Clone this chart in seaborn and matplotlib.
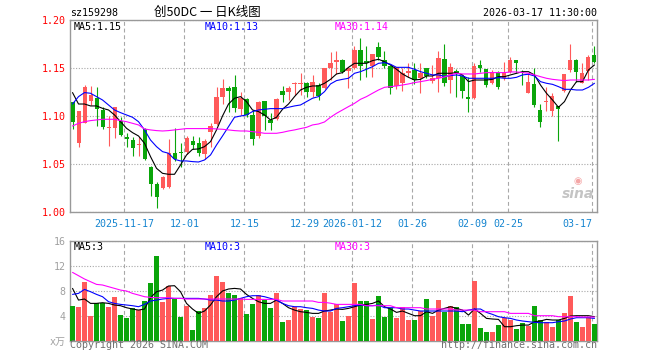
import matplotlib
matplotlib.use("Agg")
import matplotlib.pyplot as plt
import numpy as np
import pandas as pd
import seaborn as sns

sns.set_theme(style="white")
plt.rcParams["font.family"] = ["DejaVu Sans Mono", "Noto Sans CJK SC"]

RED = "#ff5a5a"
GREEN = "#0aa50a"
GRID = "#a8a8a8"
FRAME = "#999999"
XBLUE = "#1585d0"
FS = 7.2

# daily candles, 2025-11-04 .. 2026-03-17
open_px = [1.1153, 1.0719, 1.0934, 1.1163, 1.1188, 1.1066, 1.0875, 1.0875, 1.0955, 1.0788,
           1.0753, 1.0698, 1.0865, 1.0476, 1.0295, 1.0257, 1.0267, 1.0615, 1.0625, 1.0632,
           1.0743, 1.0719, 1.0608, 1.0840, 1.0920, 1.1205, 1.1292, 1.1302, 1.1073, 1.1177,
           1.1014, 1.0795, 1.1160, 1.0962, 1.0969, 1.1264, 1.1257, 1.1333, 1.1333, 1.1351,
           1.1257, 1.1326, 1.1299, 1.1507, 1.1563, 1.1587, 1.1476, 1.1500, 1.1691, 1.1576,
           1.1528, 1.1719, 1.1587, 1.1524, 1.1312, 1.1351, 1.1455, 1.1483, 1.1403, 1.1507,
           1.1365, 1.1396, 1.1597, 1.1378, 1.1476, 1.1420, 1.1205, 1.1188, 1.1535, 1.1490,
           1.1351, 1.1465, 1.1396, 1.1465, 1.1587, 1.1465, 1.1247, 1.1337, 1.1066, 1.1153,
           1.1059, 1.1108, 1.1267, 1.1483, 1.1587, 1.1351, 1.1476, 1.1639]
close_px = [1.0944, 1.1056, 1.1302, 1.1222, 1.1073, 1.0892, 1.0892, 1.1094, 1.0806, 1.0760,
            1.0667, 1.0712, 1.0559, 1.0295, 1.0163, 1.0372, 1.0615, 1.0552, 1.0618, 1.0778,
            1.0701, 1.0622, 1.0743, 1.0899, 1.1198, 1.1292, 1.1264, 1.1083, 1.1188, 1.1014,
            1.0764, 1.1153, 1.1003, 1.0927, 1.1177, 1.1222, 1.1292, 1.1344, 1.1351, 1.1257,
            1.1361, 1.1215, 1.1507, 1.1552, 1.1587, 1.1465, 1.1507, 1.1691, 1.1528, 1.1552,
            1.1649, 1.1622, 1.1524, 1.1292, 1.1517, 1.1455, 1.1476, 1.1378, 1.1455, 1.1420,
            1.1403, 1.1604, 1.1351, 1.1517, 1.1448, 1.1267, 1.1177, 1.1524, 1.1500, 1.1326,
            1.1465, 1.1302, 1.1455, 1.1587, 1.1552, 1.1448, 1.1361, 1.1118, 1.0937, 1.1163,
            1.1212, 1.1080, 1.1441, 1.1587, 1.1465, 1.1455, 1.1615, 1.1569]
high_px = [1.1153, 1.1056, 1.1326, 1.1316, 1.1302, 1.1101, 1.1003, 1.1094, 1.0990, 1.0823,
           1.0788, 1.0788, 1.0875, 1.0483, 1.0319, 1.0382, 1.0760, 1.0875, 1.0719, 1.0795,
           1.0795, 1.0788, 1.0760, 1.0927, 1.1302, 1.1385, 1.1316, 1.1431, 1.1257, 1.1188,
           1.1066, 1.1163, 1.1160, 1.1031, 1.1188, 1.1316, 1.1316, 1.1361, 1.1448, 1.1361,
           1.1431, 1.1344, 1.1507, 1.1674, 1.1684, 1.1594, 1.1517, 1.1736, 1.1812, 1.1736,
           1.1649, 1.1778, 1.1684, 1.1535, 1.1517, 1.1500, 1.1552, 1.1552, 1.1552, 1.1507,
           1.1535, 1.1684, 1.1750, 1.1552, 1.1490, 1.1431, 1.1413, 1.1559, 1.1587, 1.1490,
           1.1483, 1.1476, 1.1566, 1.1615, 1.1587, 1.1483, 1.1448, 1.1500, 1.1128, 1.1309,
           1.1240, 1.1108, 1.1441, 1.1753, 1.1594, 1.1552, 1.1639, 1.1733]
low_px = [1.0865, 1.0684, 1.0934, 1.1118, 1.0899, 1.0870, 1.0694, 1.0778, 1.0795, 1.0684,
          1.0587, 1.0590, 1.0545, 1.0170, 1.0042, 1.0243, 1.0250, 1.0538, 1.0476, 1.0608,
          1.0660, 1.0587, 1.0552, 1.0677, 1.0906, 1.1128, 1.1049, 1.1049, 1.1014, 1.0990,
          1.0701, 1.0771, 1.0858, 1.0858, 1.0962, 1.1153, 1.1170, 1.1222, 1.1222, 1.1205,
          1.1205, 1.1170, 1.1281, 1.1378, 1.1441, 1.1448, 1.1299, 1.1490, 1.1378, 1.1413,
          1.1413, 1.1587, 1.1500, 1.1229, 1.1285, 1.1267, 1.1413, 1.1337, 1.1247, 1.1396,
          1.1344, 1.1257, 1.1313, 1.1247, 1.1205, 1.1188, 1.1049, 1.1177, 1.1465, 1.1309,
          1.1337, 1.1288, 1.1378, 1.1448, 1.1448, 1.1326, 1.1240, 1.1094, 1.0885, 1.1059,
          1.1003, 1.0747, 1.1257, 1.1465, 1.1361, 1.1344, 1.1378, 1.1552]

ma5 = [1.1247, 1.1128, 1.1128, 1.1108, 1.1108, 1.1083, 1.1066, 1.1014, 1.0944, 1.0875,
       1.0830, 1.0795, 1.0719, 1.0580, 1.0458, 1.0406, 1.0396, 1.0396, 1.0493, 1.0597,
       1.0656, 1.0660, 1.0684, 1.0736, 1.0858, 1.1003, 1.1128, 1.1188, 1.1205, 1.1153,
       1.1066, 1.1049, 1.1014, 1.0962, 1.0990, 1.1073, 1.1128, 1.1205, 1.1274, 1.1302,
       1.1316, 1.1316, 1.1344, 1.1385, 1.1441, 1.1455, 1.1510, 1.1552, 1.1552, 1.1552,
       1.1580, 1.1594, 1.1569, 1.1535, 1.1490, 1.1441, 1.1406, 1.1378, 1.1385, 1.1420,
       1.1420, 1.1448, 1.1448, 1.1448, 1.1455, 1.1431, 1.1361, 1.1378, 1.1378, 1.1378,
       1.1385, 1.1413, 1.1413, 1.1431, 1.1448, 1.1465, 1.1465, 1.1431, 1.1326, 1.1240,
       1.1170, 1.1094, 1.1153, 1.1274, 1.1361, 1.1361, 1.1483, 1.1535]
ma10 = [1.1128, 1.1205, 1.1247, 1.1240, 1.1205, 1.1170, 1.1118, 1.1066, 1.1038, 1.1014,
        1.0990, 1.0944, 1.0858, 1.0753, 1.0684, 1.0632, 1.0615, 1.0552, 1.0535, 1.0535,
        1.0528, 1.0524, 1.0545, 1.0597, 1.0701, 1.0795, 1.0892, 1.0990, 1.1003, 1.1014,
        1.1049, 1.1066, 1.1073, 1.1080, 1.1080, 1.1080, 1.1094, 1.1108, 1.1118, 1.1153,
        1.1188, 1.1205, 1.1257, 1.1337, 1.1372, 1.1385, 1.1396, 1.1448, 1.1465, 1.1490,
        1.1517, 1.1552, 1.1559, 1.1542, 1.1510, 1.1510, 1.1510, 1.1490, 1.1465, 1.1448,
        1.1431, 1.1431, 1.1416, 1.1424, 1.1431, 1.1420, 1.1396, 1.1396, 1.1396, 1.1396,
        1.1396, 1.1403, 1.1396, 1.1396, 1.1406, 1.1431, 1.1438, 1.1420, 1.1361, 1.1344,
        1.1333, 1.1309, 1.1281, 1.1281, 1.1274, 1.1274, 1.1302, 1.1344]
ma30 = [1.0899, 1.0927, 1.0944, 1.0955, 1.0962, 1.0969, 1.0969, 1.0969, 1.0955, 1.0944,
        1.0927, 1.0910, 1.0868, 1.0858, 1.0851, 1.0847, 1.0851, 1.0858, 1.0865, 1.0872,
        1.0872, 1.0872, 1.0872, 1.0872, 1.0868, 1.0865, 1.0858, 1.0851, 1.0847, 1.0847,
        1.0840, 1.0833, 1.0823, 1.0823, 1.0823, 1.0833, 1.0847, 1.0858, 1.0872, 1.0885,
        1.0910, 1.0920, 1.0941, 1.0990, 1.1031, 1.1066, 1.1101, 1.1135, 1.1177, 1.1205,
        1.1240, 1.1274, 1.1302, 1.1309, 1.1316, 1.1326, 1.1337, 1.1351, 1.1361, 1.1372,
        1.1385, 1.1396, 1.1410, 1.1431, 1.1448, 1.1441, 1.1441, 1.1441, 1.1448, 1.1455,
        1.1455, 1.1455, 1.1455, 1.1462, 1.1462, 1.1455, 1.1448, 1.1431, 1.1413, 1.1396,
        1.1385, 1.1378, 1.1372, 1.1378, 1.1378, 1.1378, 1.1378, 1.1385]

# volume, in 万
vol = [5.60, 5.44, 9.44, 4.00, 5.97, 5.97, 5.44, 7.04, 4.10, 3.68,
       5.28, 4.90, 6.40, 9.28, 13.55, 6.24, 8.69, 6.88, 3.84, 5.60,
       1.71, 4.75, 5.28, 7.31, 10.40, 9.44, 7.68, 7.31, 6.77, 4.27,
       5.92, 7.31, 6.50, 5.28, 7.57, 3.04, 3.30, 5.44, 5.07, 4.90,
       3.84, 3.68, 7.57, 4.64, 5.81, 3.15, 4.00, 9.28, 6.40, 6.40,
       3.47, 7.20, 3.84, 5.17, 3.68, 5.33, 3.31, 3.31, 4.75, 6.72,
       4.00, 6.56, 4.64, 5.60, 5.33, 2.67, 2.67, 9.60, 2.08, 1.44,
       1.44, 2.50, 3.57, 3.31, 1.87, 2.88, 2.40, 5.60, 3.31, 2.93,
       2.24, 3.31, 4.48, 7.20, 3.04, 2.24, 3.84, 2.67]
vma5 = [8.37, 6.50, 6.67, 5.97, 5.97, 6.08, 5.97, 5.71, 5.60, 5.28,
        5.07, 4.90, 5.07, 6.88, 7.84, 8.10, 8.75, 8.80, 7.84, 5.97,
        5.07, 4.37, 4.75, 5.71, 7.04, 7.95, 8.27, 8.37, 8.27, 7.41,
        6.77, 6.24, 5.97, 5.97, 6.50, 5.97, 5.28, 4.90, 4.64, 4.53,
        4.37, 4.37, 4.75, 4.90, 5.07, 5.01, 5.17, 5.44, 5.71, 5.81,
        5.97, 6.35, 5.44, 5.07, 4.53, 4.75, 4.37, 4.00, 4.00, 4.64,
        4.37, 4.90, 5.17, 5.44, 5.17, 4.90, 4.10, 5.07, 4.37, 3.57,
        3.47, 3.41, 2.24, 2.24, 2.40, 2.50, 2.50, 3.04, 3.15, 3.41,
        3.31, 3.31, 3.57, 3.95, 4.00, 4.00, 4.00, 3.84]
vma10 = [7.41, 7.57, 8.21, 7.84, 7.41, 7.04, 6.24, 5.97, 5.81, 5.71,
         5.60, 5.44, 5.81, 6.35, 6.50, 6.67, 6.77, 6.77, 6.77, 6.77,
         6.77, 6.77, 6.67, 6.50, 6.50, 6.35, 6.35, 6.50, 6.77, 7.04,
         7.20, 7.20, 7.04, 6.77, 6.50, 5.97, 5.60, 5.44, 5.44, 5.28,
         5.17, 4.90, 4.75, 4.75, 5.17, 5.28, 5.44, 5.60, 5.71, 5.60,
         5.60, 5.71, 5.28, 5.28, 5.28, 5.07, 5.07, 4.90, 4.75, 4.75,
         4.75, 4.75, 4.75, 4.75, 4.75, 4.64, 4.90, 5.07, 5.07, 4.53,
         4.21, 3.84, 3.68, 3.57, 3.31, 3.15, 3.04, 2.93, 2.88, 2.88,
         2.88, 3.04, 3.15, 3.47, 3.68, 3.68, 3.68, 3.57]
vma30 = [10.93, 10.40, 9.87, 9.44, 9.01, 8.91, 8.64, 8.37, 8.10, 7.95,
         7.57, 7.31, 7.04, 6.93, 6.88, 6.88, 6.88, 6.77, 6.77, 6.67,
         6.67, 6.67, 6.67, 6.67, 6.67, 6.67, 6.67, 6.67, 6.67, 6.61,
         6.61, 6.61, 6.61, 6.61, 6.61, 6.35, 6.35, 6.35, 6.35, 6.35,
         6.35, 6.13, 6.13, 6.00, 5.81, 5.81, 5.81, 5.81, 5.81, 5.60,
         5.60, 5.60, 5.60, 5.60, 5.28, 5.28, 5.28, 5.28, 5.28, 5.07,
         5.07, 5.07, 5.07, 5.07, 4.90, 4.90, 4.90, 4.90, 4.64, 4.64,
         4.64, 4.64, 4.64, 4.37, 4.37, 4.37, 4.37, 4.00, 4.00, 4.00,
         4.00, 3.84, 3.84, 3.84, 3.84, 3.79, 3.79, 3.79]

tick_days = [9, 19, 29, 39, 47, 57, 67, 73, 87]
tick_labels = ["2025-11-17", "12-01", "12-15", "12-29", "2026-01-12",
               "01-26", "02-09", "02-25", "03-17"]
price_ticks = [1.00, 1.05, 1.10, 1.15, 1.20]
vol_ticks = [0, 4, 8, 12, 16]
vol_tick_labels = ["x万", "4", "8", "12", "16"]

df = pd.DataFrame({"open": open_px, "close": close_px, "high": high_px, "low": low_px,
                   "ma5": ma5, "ma10": ma10, "ma30": ma30,
                   "vol": vol, "vma5": vma5, "vma10": vma10, "vma30": vma30})
df["idx"] = np.arange(len(df))
df["dir"] = np.where(df["close"] >= df["open"], "up", "down")
col = df["dir"].map({"up": RED, "down": GREEN})

W, H = 660, 360
fig = plt.figure(figsize=(W / 100, H / 100), dpi=100)


def rect(l, t, r, b):
    return [l / W, 1 - b / H, (r - l) / W, (b - t) / H]


ax = fig.add_axes(rect(70, 20.3, 597, 212.3))
axv = fig.add_axes(rect(70, 240.7, 597, 340.7))

# candles
ax.vlines(df["idx"], df["low"], df["high"], colors=col, linewidth=0.8, zorder=3)
body_lo = df[["open", "close"]].min(axis=1)
body_h = (df["close"] - df["open"]).abs().clip(lower=0.0008)
ax.bar(df["idx"], body_h, bottom=body_lo, width=0.67, color=col, linewidth=0, zorder=4)
for name, c in [("ma5", "black"), ("ma10", "#0000ff"), ("ma30", "#ff00ff")]:
    sns.lineplot(data=df, x="idx", y=name, ax=ax, color=c, linewidth=0.8, zorder=5)

# volume
axv.bar(df["idx"], df["vol"], width=0.83, color=col, linewidth=0, zorder=3)
for name, c in [("vma5", "black"), ("vma10", "#0000ff"), ("vma30", "#ff00ff")]:
    sns.lineplot(data=df, x="idx", y=name, ax=axv, color=c, linewidth=0.8, zorder=5)

xt = np.array(tick_days) - 0.37
for a in (ax, axv):
    a.set_xlim(-0.42, 87.42)
    a.set_xticks(xt)
    a.xaxis.grid(True, color=GRID, linestyle=(0, (3.5, 2.5)), linewidth=0.8)
    a.yaxis.grid(True, color=GRID, linestyle=(0, (1, 1.5)), linewidth=0.8)
    a.set_axisbelow(True)
    a.tick_params(length=0, labelsize=FS)
    a.set_xlabel("")
    a.set_ylabel("")
    for s in a.spines.values():
        s.set_color(FRAME)
        s.set_linewidth(1)

ax.set_ylim(1.00, 1.20)
ax.set_yticks(price_ticks)
ax.set_yticklabels([f"{v:.2f}" for v in price_ticks], color="#ff0000")
ax.set_xticklabels(tick_labels, color=XBLUE)
ax.get_xticklabels()[-1].set_ha("right")
ax.tick_params(axis="x", pad=5)
ax.tick_params(axis="y", pad=3)

axv.set_ylim(0, 16)
axv.set_yticks(vol_ticks)
axv.set_yticklabels(vol_tick_labels, color="#a0a0a0")
axv.set_xticklabels([])
axv.tick_params(axis="y", pad=3)

# watermark
ax.text(0.995, 0.058, "sina", transform=ax.transAxes, ha="right", va="bottom",
        fontsize=10, fontstyle="italic", fontweight="bold", color="#c4c4c4",
        family="DejaVu Sans", zorder=1)
ax.text(0.963, 0.135, "◉", transform=ax.transAxes, ha="center", va="bottom",
        fontsize=7, color="#f4a6a6", family="DejaVu Sans", zorder=1)


def put(x, y, s, size=FS, **kw):
    fig.text(x / W, 1 - y / H, s, va="center", fontsize=size, **kw)


put(70, 13, "sz159298", color="black")
put(207, 12.5, "创50DC 一 日K线图", ha="center", color="black",
    family=["Noto Sans CJK SC", "DejaVu Sans"], size=9.0)
put(597, 13, "2026-03-17 11:30:00", ha="right", color="black")
put(74, 26.5, "MA5:1.15", color="black")
put(204.5, 26.5, "MA10:1.13", color="#0000ff")
put(334.5, 26.5, "MA30:1.14", color="#ff00ff")
put(74, 246.5, "MA5:3", color="black")
put(204.5, 246.5, "MA10:3", color="#0000ff")
put(334.5, 246.5, "MA30:3", color="#ff00ff")
put(70, 345.5, "Copyright 2026 SINA.COM", color="#707070")
put(597, 345.5, "http://finance.sina.com.cn", ha="right", color="#707070")

fig.savefig("out.png", dpi=100)
